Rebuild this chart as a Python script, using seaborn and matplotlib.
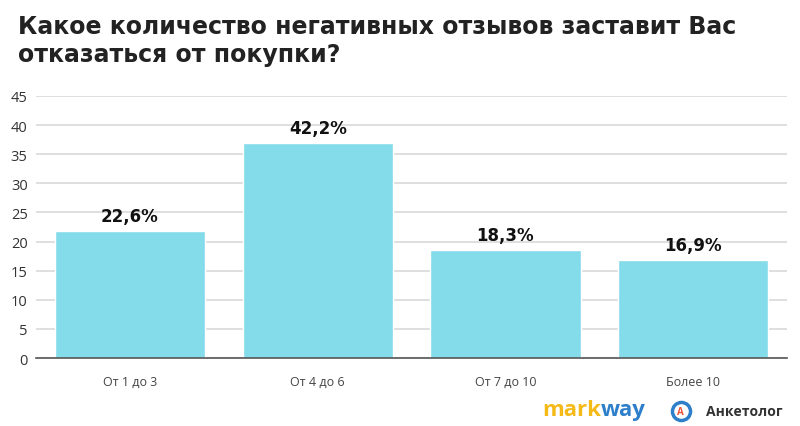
import matplotlib.pyplot as plt
from matplotlib.lines import Line2D
import numpy as np
import pandas as pd
import seaborn as sns

categories = ["От 1 до 3", "От 4 до 6", "От 7 до 10", "Более 10"]
bar_values = [21.8, 37.0, 18.5, 16.9]
bar_labels = ["22,6%", "42,2%", "18,3%", "16,9%"]
y_ticks = [0, 5, 10, 15, 20, 25, 30, 35, 40, 45]

sns.set_theme(style="white")
plt.rcParams['font.family'] = ['Open Sans', 'DejaVu Sans']

df = pd.DataFrame({"cat": categories, "val": bar_values})

fig = plt.figure(figsize=(8, 4.27), dpi=100)
ax = fig.add_axes([0.045, 0.159, 0.939, 0.614])
sns.barplot(data=df, x="cat", y="val", color="#84DBEA", saturation=1, width=0.8, ax=ax)

ax.set_ylim(0, 45)
ax.set_xlim(-0.5, 3.5)
ax.set_yticks(y_ticks)
ax.set_yticklabels([str(t) for t in y_ticks], fontsize=10.5, color="#333333")
ax.set_xticks(range(len(categories)))
ax.set_xticklabels(categories, fontsize=9, color="#444444")
ax.tick_params(axis="x", length=0, pad=12)
ax.tick_params(axis="y", length=0, pad=6)
ax.set_xlabel("")
ax.set_ylabel("")
ax.yaxis.grid(True, color="#d9d9d9", linewidth=1.2)
ax.set_axisbelow(True)
for s in ["top", "right", "left"]:
    ax.spines[s].set_visible(False)
ax.spines["bottom"].set_color("#555555")
ax.spines["bottom"].set_linewidth(1.2)

for i, (v, lab) in enumerate(zip(bar_values, bar_labels)):
    ax.text(i, v + 1.0, lab, ha="center", va="bottom", fontsize=12,
            fontweight="bold", color="#111111", family="DejaVu Sans")

fig.text(0.022, 0.965, "Какое количество негативных отзывов заставит Вас\nотказаться от покупки?",
         ha="left", va="top", fontsize=17, fontweight="bold", color="#222222",
         linespacing=1.2, family="DejaVu Sans")

# logos as text
fig.text(0.751, 0.026, "mark", ha="right", va="baseline", fontsize=16, fontweight="bold",
         color="#F5B918")
fig.text(0.751, 0.026, "way", ha="left", va="baseline", fontsize=16, fontweight="bold",
         color="#2E7FC9")
fig.add_artist(Line2D([0.851], [0.035], transform=fig.transFigure, marker="o",
                      markersize=13, markerfacecolor="white", markeredgecolor="#2E7FC9",
                      markeredgewidth=2.5))
fig.text(0.851, 0.035, "А", ha="center", va="center", fontsize=7, color="#E8543A",
         fontweight="bold")
fig.text(0.883, 0.035, "Анкетолог", ha="left", va="center", fontsize=10,
         fontweight="bold", color="#333333")

fig.savefig("out.png", dpi=100)
